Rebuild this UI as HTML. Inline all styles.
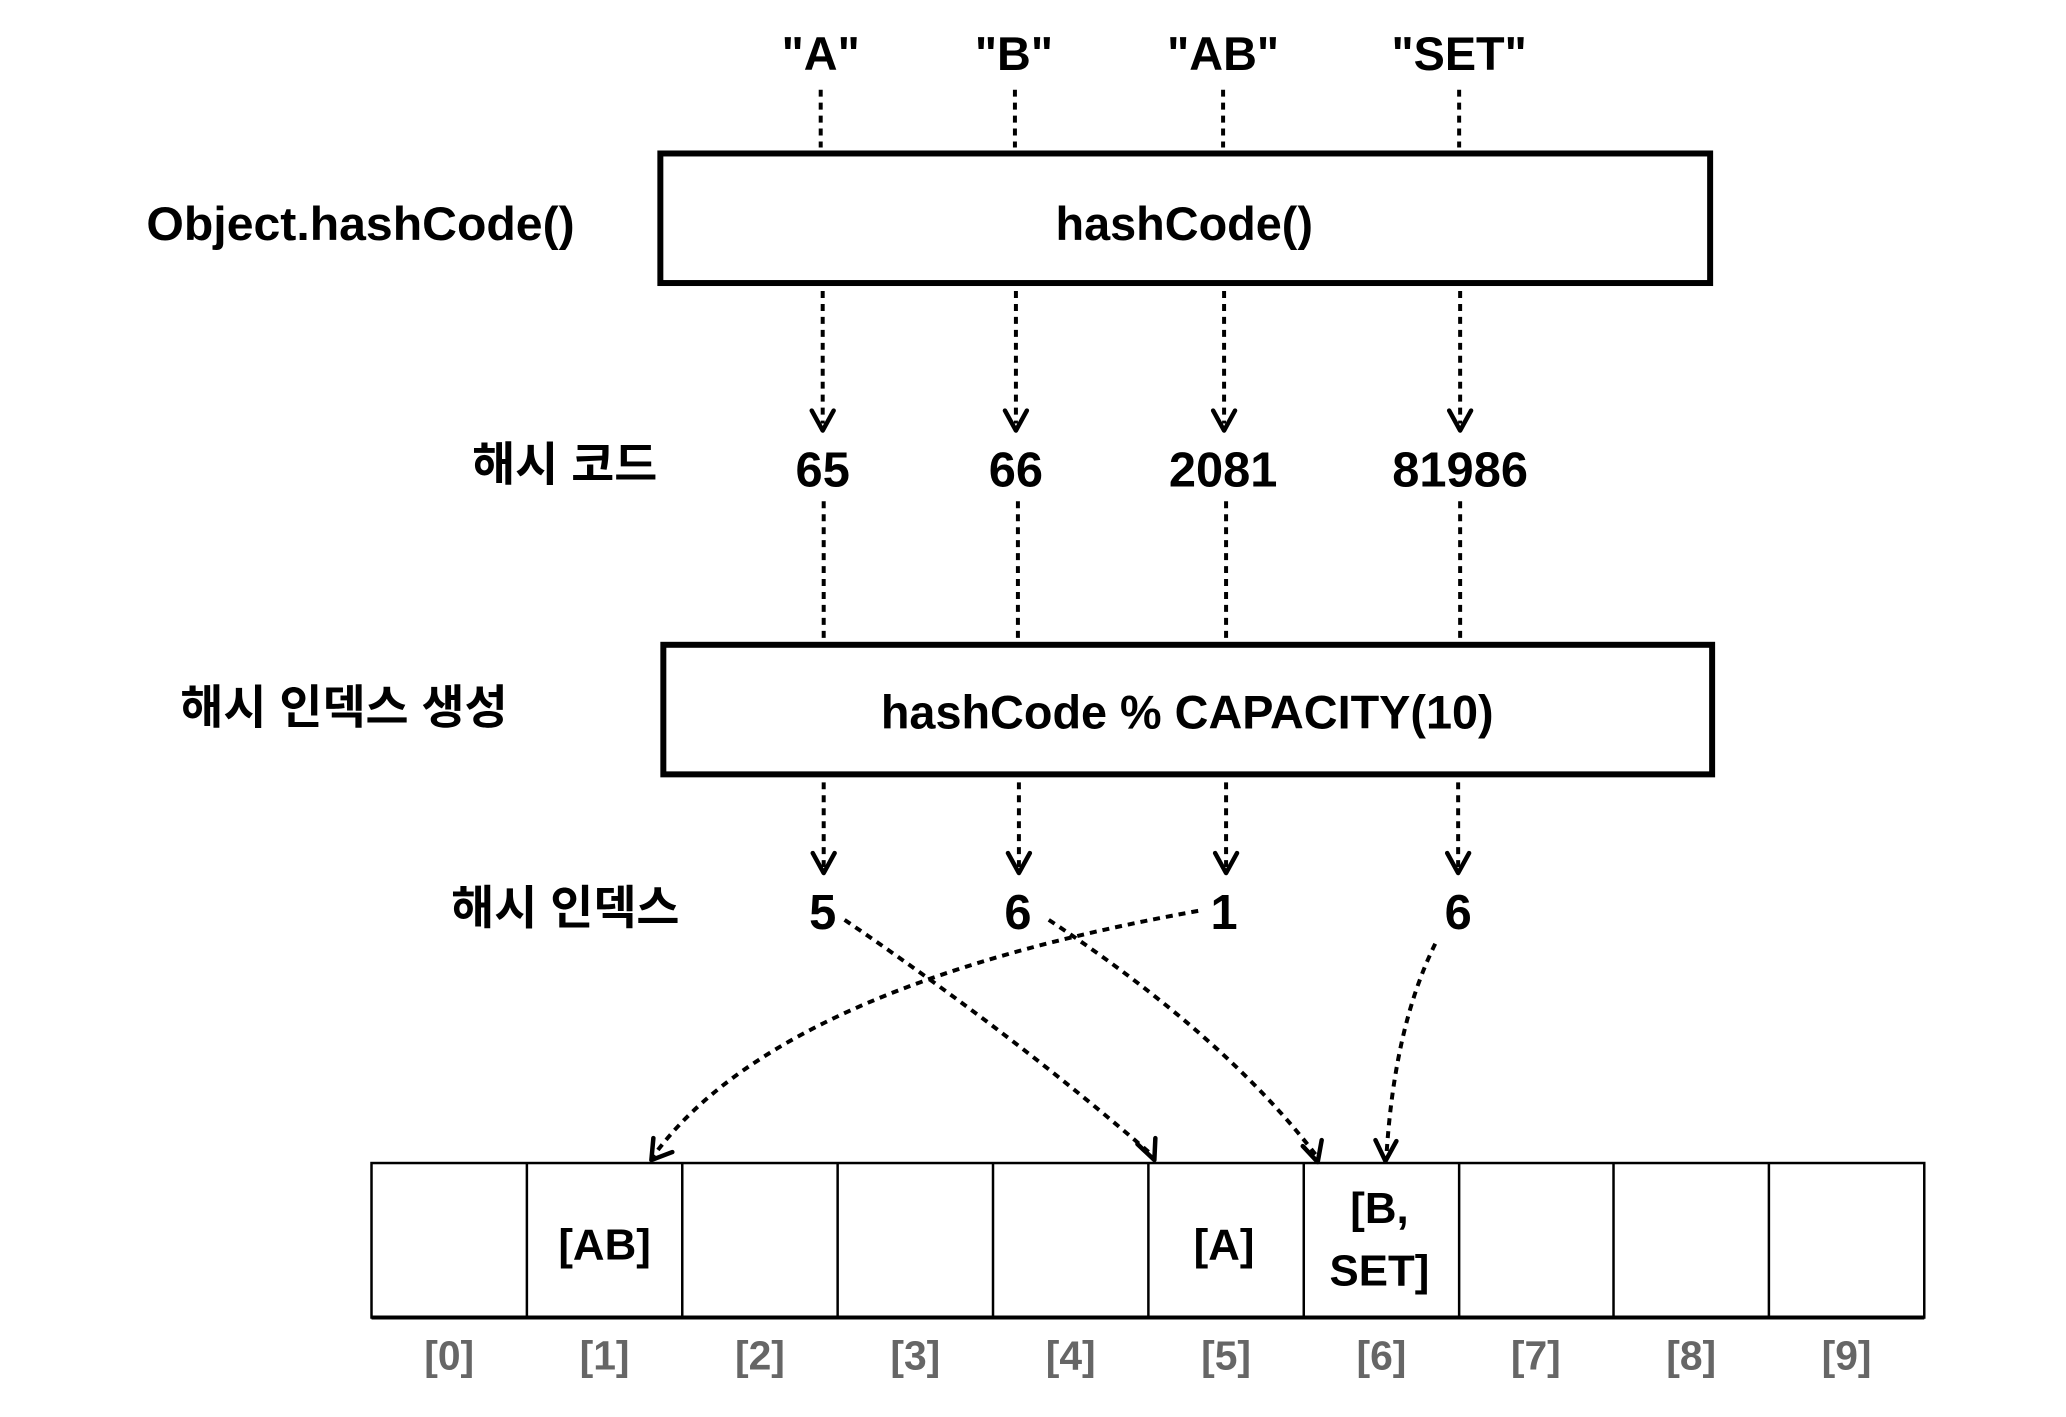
<!DOCTYPE html>
<html><head><meta charset="utf-8"><style>
html,body{margin:0;padding:0;background:#fff;}
svg text{font-family:"Liberation Sans","Noto Sans CJK KR",sans-serif;font-weight:bold;}
</style></head><body>
<svg width="2066" height="1412" viewBox="0 0 2066 1412" xmlns="http://www.w3.org/2000/svg">
<g transform="scale(0.996,0.9966)">
<g fill="#000" font-size="47" text-anchor="middle">
<text x="824" y="70">"A"</text>
<text x="1018" y="70">"B"</text>
<text x="1228" y="70">"AB"</text>
<text x="1465" y="70">"SET"</text>
</g>
<g stroke="#000" stroke-width="4" stroke-dasharray="7,6" fill="none">
<line x1="824" y1="90" x2="824" y2="148"/>
<line x1="1019" y1="90" x2="1019" y2="148"/>
<line x1="1228" y1="90" x2="1228" y2="148"/>
<line x1="1465" y1="90" x2="1465" y2="148"/>
<line x1="826" y1="292" x2="826" y2="425"/>
<line x1="1020" y1="292" x2="1020" y2="425"/>
<line x1="1229" y1="292" x2="1229" y2="425"/>
<line x1="1466" y1="292" x2="1466" y2="425"/>
<line x1="827" y1="503" x2="827" y2="645"/>
<line x1="1022" y1="503" x2="1022" y2="645"/>
<line x1="1231" y1="503" x2="1231" y2="645"/>
<line x1="1466" y1="503" x2="1466" y2="645"/>
<line x1="827" y1="785" x2="827" y2="870"/>
<line x1="1023" y1="785" x2="1023" y2="870"/>
<line x1="1231" y1="785" x2="1231" y2="870"/>
<line x1="1464" y1="785" x2="1464" y2="870"/>
<path d="M1203,914 Q780,990 656,1160"/>
<path d="M848,923 Q1020,1040 1158,1160"/>
<path d="M1053,923 Q1230,1040 1322,1160"/>
<path d="M1441,947 Q1400,1030 1392,1160"/>
</g>
<g stroke="#000" stroke-width="4.5" fill="none" stroke-linecap="round" stroke-linejoin="round">
<path d="M815,412 L826,432 L837,412"/>
<path d="M1009,412 L1020,432 L1031,412"/>
<path d="M1218,412 L1229,432 L1240,412"/>
<path d="M1455,412 L1466,432 L1477,412"/>
<path d="M816,856 L827,876 L838,856"/>
<path d="M1012,856 L1023,876 L1034,856"/>
<path d="M1220,856 L1231,876 L1242,856"/>
<path d="M1453,856 L1464,876 L1475,856"/>
<path d="M656,1142 L654,1164 L675,1156"/>
<path d="M1142,1148 L1159,1164 L1160,1142"/>
<path d="M1308,1150 L1323,1166 L1327,1144"/>
<path d="M1381,1144 L1391,1165 L1402,1145"/>
</g>
<rect x="663" y="154" width="1054" height="130" fill="none" stroke="#000" stroke-width="6"/>
<rect x="666" y="647" width="1053" height="130" fill="none" stroke="#000" stroke-width="6"/>
<g fill="#000" font-size="47">
<text x="147" y="241" textLength="430" lengthAdjust="spacingAndGlyphs">Object.hashCode()</text>
<text x="1189" y="241" text-anchor="middle">hashCode()</text>
<text x="1192" y="731" text-anchor="middle">hashCode % CAPACITY(10)</text>
<text x="474" y="482">해시 코드</text>
<text x="181" y="726">해시 인덱스 생성</text>
<text x="453" y="927">해시 인덱스</text>
</g>
<g fill="#000" font-size="49" text-anchor="middle">
<text x="826" y="488">65</text>
<text x="1020" y="488">66</text>
<text x="1228" y="488">2081</text>
<text x="1466" y="488">81986</text>
<text x="826" y="932">5</text>
<text x="1022" y="932">6</text>
<text x="1229" y="932">1</text>
<text x="1464" y="932">6</text>
</g>
<g stroke="#000" stroke-width="2.5" fill="none">
<rect x="373" y="1167" width="1559" height="155"/>
<line x1="529" y1="1167" x2="529" y2="1322"/>
<line x1="685" y1="1167" x2="685" y2="1322"/>
<line x1="841" y1="1167" x2="841" y2="1322"/>
<line x1="997" y1="1167" x2="997" y2="1322"/>
<line x1="1153" y1="1167" x2="1153" y2="1322"/>
<line x1="1309" y1="1167" x2="1309" y2="1322"/>
<line x1="1465" y1="1167" x2="1465" y2="1322"/>
<line x1="1620" y1="1167" x2="1620" y2="1322"/>
<line x1="1776" y1="1167" x2="1776" y2="1322"/>
</g>
<line x1="373" y1="1322" x2="1932" y2="1322" stroke="#000" stroke-width="4"/>
<g fill="#000" font-size="44" text-anchor="middle">
<text x="607" y="1264">[AB]</text>
<text x="1229" y="1264">[A]</text>
<text x="1385" y="1227">[B,</text>
<text x="1385" y="1290">SET]</text>
</g>
<g fill="#666" font-size="41" text-anchor="middle">
<text x="451" y="1374">[0]</text>
<text x="607" y="1374">[1]</text>
<text x="763" y="1374">[2]</text>
<text x="919" y="1374">[3]</text>
<text x="1075" y="1374">[4]</text>
<text x="1231" y="1374">[5]</text>
<text x="1387" y="1374">[6]</text>
<text x="1542" y="1374">[7]</text>
<text x="1698" y="1374">[8]</text>
<text x="1854" y="1374">[9]</text>
</g>
</g>
</svg>
</body></html>
